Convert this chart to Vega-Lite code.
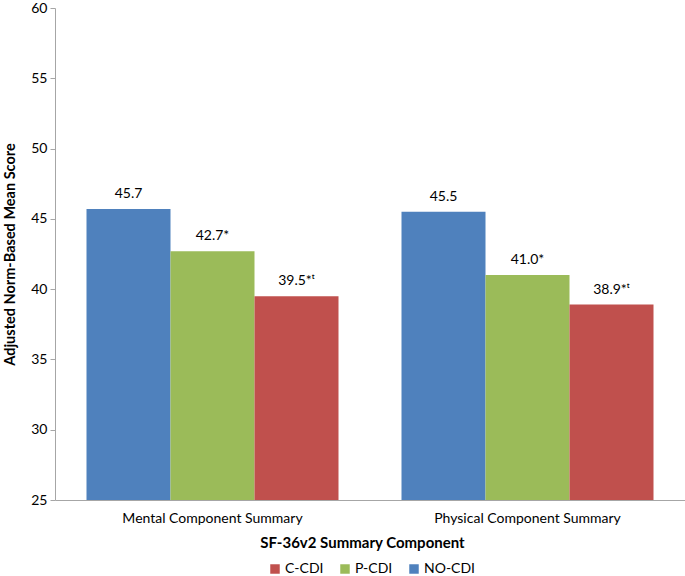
{
  "$schema": "https://vega.github.io/schema/vega-lite/v6.json",
  "autosize": "none",
  "width": 630,
  "height": 492,
  "padding": {"left": 55, "top": 8, "right": 0, "bottom": 76},
  "background": "white",
  "config": {
    "view": {"stroke": null},
    "font": "Lato",
    "axis": {"labelFont": "Lato", "titleFont": "Lato", "labelColor": "#000000", "titleColor": "#000000"}
  },
  "data": {
    "values": [
      {"component": "Mental Component Summary", "group": "NO-CDI", "ord": 1, "score": 45.7, "label": "45.7"},
      {"component": "Mental Component Summary", "group": "P-CDI", "ord": 2, "score": 42.7, "label": "42.7*"},
      {"component": "Mental Component Summary", "group": "C-CDI", "ord": 3, "score": 39.5, "label": "39.5*ᵗ"},
      {"component": "Physical Component Summary", "group": "NO-CDI", "ord": 1, "score": 45.5, "label": "45.5"},
      {"component": "Physical Component Summary", "group": "P-CDI", "ord": 2, "score": 41.0, "label": "41.0*"},
      {"component": "Physical Component Summary", "group": "C-CDI", "ord": 3, "score": 38.9, "label": "38.9*ᵗ"}
    ]
  },
  "encoding": {
    "x": {
      "field": "component", "type": "nominal",
      "scale": {"paddingInner": 0.2, "paddingOuter": 0.1},
      "axis": {
        "title": "SF-36v2 Summary Component",
        "labelAngle": 0, "labelFontSize": 14, "labelPadding": 11, "labelLimit": 0,
        "ticks": false, "tickSize": 0,
        "domainColor": "#a6a6a6",
        "titleFontSize": 15, "titleFontWeight": "bold",
        "titleX": 307, "titleY": 42, "titleBaseline": "middle"
      }
    },
    "xOffset": {"field": "group", "type": "nominal", "sort": ["NO-CDI", "P-CDI", "C-CDI"]},
    "y": {
      "field": "score", "type": "quantitative",
      "scale": {"domain": [25, 60], "nice": false, "zero": false},
      "axis": {
        "title": "Adjusted Norm-Based Mean Score",
        "values": [25, 30, 35, 40, 45, 50, 55, 60],
        "grid": false, "tickSize": 5, "tickColor": "#a6a6a6", "domainColor": "#a6a6a6",
        "labelFontSize": 14, "labelPadding": 3,
        "titleFontSize": 14.5, "titleFontWeight": "bold",
        "titleX": -45, "titleY": 246, "titleAngle": 270, "titleBaseline": "middle"
      }
    }
  },
  "layer": [
    {
      "mark": {"type": "bar", "clip": true},
      "encoding": {
        "y2": {"datum": 25},
        "color": {
          "field": "group", "type": "nominal",
          "scale": {"domain": ["C-CDI", "P-CDI", "NO-CDI"], "range": ["#C0504D", "#9BBB59", "#4F81BD"]},
          "legend": {
            "title": null, "orient": "none", "direction": "horizontal",
            "legendX": 213, "legendY": 554,
            "symbolType": "square", "symbolSize": 90, "symbolStrokeWidth": 0,
            "labelFontSize": 14, "labelFont": "Lato", "labelColor": "#000000",
            "columnPadding": 14, "labelOffset": 3, "padding": 0
          }
        }
      }
    },
    {
      "mark": {"type": "text", "baseline": "bottom", "dy": -8, "fontSize": 14, "font": "Lato", "color": "#000000"},
      "encoding": {"text": {"field": "label"}}
    }
  ]
}
